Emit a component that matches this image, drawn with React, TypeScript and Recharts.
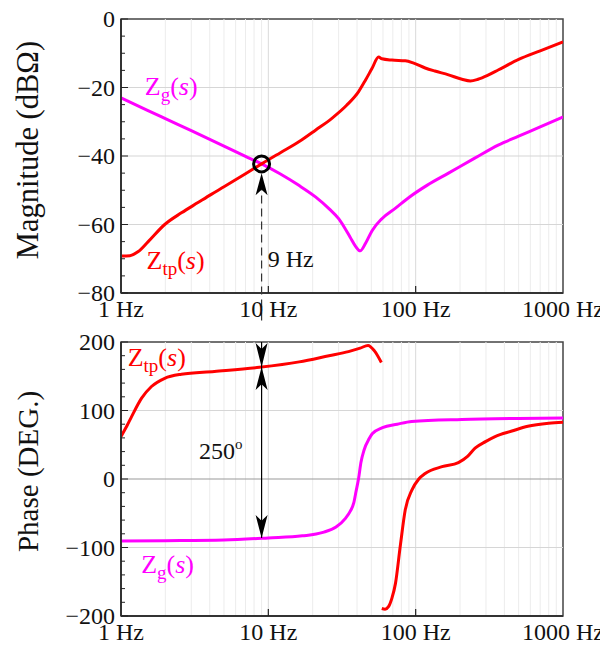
import {
  Line,
  LineChart,
  ReferenceArea,
  ReferenceDot,
  ReferenceLine,
  XAxis,
  YAxis,
} from 'recharts';

const FONT = '"Liberation Serif", "Times New Roman", serif';
const RED = '#ff0000';
const MAGENTA = '#ff00ff';

// frequency axis (Hz)
const decadeTicks = [1, 10, 100, 1000];
const innerDecades = [10, 100];
const minorFreqs = [2, 3, 4, 5, 6, 7, 8, 9, 20, 30, 40, 50, 60, 70, 80, 90, 200, 300, 400, 500, 600, 700, 800, 900];

// y axes
const magTicks = [-80, -75, -70, -65, -60, -55, -50, -45, -40, -35, -30, -25, -20, -15, -10, -5, 0];
const magGrid = [-20, -40, -60];
const phaseTicks = [-200, -180, -160, -140, -120, -100, -80, -60, -40, -20, 0, 20, 40, 60, 80, 100, 120, 140, 160, 180, 200];
const phaseGrid = [100, -100];

// magnitude of Zg(s), dBΩ
const zgMagFreq = [1, 1.5, 2, 3, 5, 7, 9, 12, 16, 21, 26, 30, 33, 36, 39, 42, 45.7, 50.6, 59, 73, 90, 120, 167, 250, 363, 500, 700, 1000];
const zgMagDb = [-23, -26.6, -29.1, -32.6, -37.1, -40.1, -42.3, -45.2, -48.5, -52, -55.5, -58.3, -61, -63.8, -66.3, -67.7, -65.5, -61.8, -58.3, -55.2, -52.1, -48.5, -45, -40.7, -36.8, -34.2, -31.5, -28.6];

// magnitude of Ztp(s), dBΩ
const ztpMagFreq = [1, 1.15, 1.31, 1.53, 1.98, 2.57, 3.33, 4.1, 5, 7, 9, 12, 16.2, 21, 27, 34, 41, 45.7, 50.6, 56, 59, 69, 85, 97, 116, 135, 167, 206, 235, 265, 310, 363, 500, 700, 1000];
const ztpMagDb = [-69.2, -69.1, -67.9, -65, -60, -56.6, -53.6, -51.2, -49, -45.2, -42.3, -39.1, -35.8, -32.4, -29, -25.2, -21.2, -17.8, -14.4, -11.1, -11.6, -12, -12.2, -12.9, -14.3, -15.2, -16.3, -17.6, -18.1, -17.6, -16.4, -14.9, -11.8, -9.3, -6.7];

// phase of Ztp(s), two branches (wraps at ±180)
const ztpPhaseFreqA = [1, 1.1, 1.18, 1.38, 1.61, 1.98, 2.57, 4.3, 8.7, 16.2, 25.8, 35, 42, 47.5, 52.5, 58.5];
const ztpPhaseDegA = [62, 78, 91, 118, 135, 147, 153, 157, 163, 171, 180, 186, 191, 195, 187, 170];
const ztpPhaseFreqB = [58.9, 62, 65.6, 69, 73, 78.5, 85, 94.4, 105, 116, 151, 195, 225, 253, 300, 346, 450, 577, 800, 1000];
const ztpPhaseDegB = [-189, -190, -186, -174, -152, -99, -45, -16, 0, 8, 18, 24, 33, 45, 55, 62, 70, 77, 81.5, 83];

// phase of Zg(s)
const zgPhaseFreq = [1, 2, 5, 10, 17, 23.5, 28.8, 33.5, 36, 38, 39.4, 41, 42.5, 44.6, 48.4, 50.7, 59.5, 75, 94, 205, 500, 1000];
const zgPhaseDeg = [-90.5, -90, -89, -86, -83, -78, -70, -57, -47, -35, -18, 1, 24, 42, 59, 66, 75, 80, 84, 87, 88.5, 89];

const toPoints = (f: number[], v: number[]) => f.map((x, i) => ({ f: x, v: v[i] }));

const XTick = (props: any) => {
  const { x, y, payload } = props;
  const v = payload.value;
  return (
    <g>
      {v > 1 && v < 1000 && <line x1={x} x2={x} y1={y} y2={y - 7} stroke="#222" strokeWidth={1.2} />}
      <text x={x} y={y + 24} textAnchor="middle" fontSize={24} fontFamily={FONT} fill="#111">
        {`${v} Hz`}
      </text>
    </g>
  );
};

const makeYTick = (major: number) => (props: any) => {
  const { x, y, payload } = props;
  const v = payload.value;
  const isMajor = v % major === 0;
  return (
    <g>
      <line x1={x} x2={x + (isMajor ? 7 : 4)} y1={y} y2={y} stroke="#222" strokeWidth={1} />
      {isMajor && (
        <text x={x - 6} y={y + 8} textAnchor="end" fontSize={24} fontFamily={FONT} fill="#111">
          {String(v).replace('-', '\u2212')}
        </text>
      )}
    </g>
  );
};

const AxisTitle = ({ text, tx, ty, size }: any) => (
  <text x={tx} y={ty} transform={`rotate(-90 ${tx} ${ty})`} textAnchor="middle" fontSize={size} fontFamily={FONT} fill="#111">
    {text}
  </text>
);

const zLabel = (sub: string, color: string) => (p: any) => (
  <text x={p.cx} y={p.cy} fontSize={26} fontFamily={FONT} fill={color}>
    Z<tspan fontSize={19} dy={6}>{sub}</tspan>
    <tspan dy={-6}>(</tspan>
    <tspan fontStyle="italic">s</tspan>)
  </text>
);

const plainLabel = (text: string, sup?: string) => (p: any) => (
  <text x={p.cx} y={p.cy} fontSize={24} fontFamily={FONT} fill="#111">
    {text}
    {sup && (
      <tspan fontSize={15} dy={-10}>
        {sup}
      </tspan>
    )}
  </text>
);

// dir 1 = pointing up, -1 = pointing down; tip sits at the data point
const arrowHead = (dir: number, len: number) => (p: any) => {
  const { cx, cy } = p;
  const w = 6;
  const by = cy + dir * len;
  const ny = cy + dir * len * 0.75;
  return <path d={`M${cx},${cy} L${cx - w},${by} L${cx},${ny} L${cx + w},${by} Z`} fill="#000" />;
};

const freqGrid = () => [
  ...minorFreqs.map((f) => <ReferenceLine key={`m${f}`} x={f} stroke="#ececec" strokeWidth={1} />),
  ...innerDecades.map((f) => <ReferenceLine key={`d${f}`} x={f} stroke="#dadada" strokeWidth={1} />),
];

export default function App() {
  return (
    <div style={{ width: 608, margin: '-8px 0 0 -8px', fontFamily: FONT }}>
      <LineChart width={608} height={325} margin={{ top: 19, right: 45, bottom: 0, left: 0 }}>
        <XAxis
          dataKey="f"
          type="number"
          scale="log"
          domain={[1, 1000]}
          allowDataOverflow
          ticks={decadeTicks}
          interval={0}
          tick={XTick}
          tickLine={false}
          tickSize={0}
          tickMargin={0}
          height={32}
          axisLine={{ stroke: '#333', strokeWidth: 2 }}
        />
        <YAxis
          type="number"
          domain={[-80, 0]}
          allowDataOverflow
          ticks={magTicks}
          interval={0}
          tick={makeYTick(20)}
          tickLine={false}
          tickSize={0}
          tickMargin={0}
          width={121}
          axisLine={{ stroke: '#333', strokeWidth: 2 }}
          label={<AxisTitle text="Magnitude (dBΩ)" tx={38} ty={150} size={30.5} />}
        />
        {freqGrid()}
        {magGrid.map((v) => (
          <ReferenceLine key={`g${v}`} y={v} stroke="#d6d6d6" strokeWidth={1.2} />
        ))}
        <ReferenceArea x1={1} x2={1000} y1={-80} y2={0} fill="none" stroke="#444" strokeWidth={1.5} />
        <Line data={toPoints(zgMagFreq, zgMagDb)} dataKey="v" type="monotone" stroke={MAGENTA} strokeWidth={3} dot={false} isAnimationActive={false} />
        <Line data={toPoints(ztpMagFreq, ztpMagDb)} dataKey="v" type="monotone" stroke={RED} strokeWidth={3} dot={false} isAnimationActive={false} />
        <ReferenceLine
          segment={[
            { x: 9, y: -88 },
            { x: 9, y: -50 },
          ]}
          ifOverflow="visible"
          stroke="#333"
          strokeWidth={1.2}
          strokeDasharray="8 5"
        />
        <ReferenceDot x={9} y={-45} shape={arrowHead(1, 22)} />
        <ReferenceDot x={9} y={-42.3} r={8} fill="none" stroke="#000" strokeWidth={3} />
        <ReferenceDot x={9.9} y={-72.3} shape={plainLabel('9 Hz')} />
        <ReferenceDot x={1.45} y={-22.2} shape={zLabel('g', MAGENTA)} />
        <ReferenceDot x={1.49} y={-73} shape={zLabel('tp', RED)} />
      </LineChart>

      <LineChart width={608} height={321} margin={{ top: 17, right: 45, bottom: 0, left: 0 }}>
        <XAxis
          dataKey="f"
          type="number"
          scale="log"
          domain={[1, 1000]}
          allowDataOverflow
          ticks={decadeTicks}
          interval={0}
          tick={XTick}
          tickLine={false}
          tickSize={0}
          tickMargin={0}
          height={30}
          axisLine={{ stroke: '#333', strokeWidth: 2 }}
        />
        <YAxis
          type="number"
          domain={[-200, 200]}
          allowDataOverflow
          ticks={phaseTicks}
          interval={0}
          tick={makeYTick(100)}
          tickLine={false}
          tickSize={0}
          tickMargin={0}
          width={121}
          axisLine={{ stroke: '#333', strokeWidth: 2 }}
          label={<AxisTitle text="Phase (DEG.)" tx={38} ty={146.5} size={29} />}
        />
        {freqGrid()}
        {phaseGrid.map((v) => (
          <ReferenceLine key={`g${v}`} y={v} stroke="#d6d6d6" strokeWidth={1.2} />
        ))}
        <ReferenceLine y={0} stroke="#9a9a9a" strokeWidth={1.2} />
        <ReferenceArea x1={1} x2={1000} y1={-200} y2={200} fill="none" stroke="#444" strokeWidth={1.5} />
        <Line data={toPoints(zgPhaseFreq, zgPhaseDeg)} dataKey="v" type="monotone" stroke={MAGENTA} strokeWidth={3} dot={false} isAnimationActive={false} />
        <Line data={toPoints(ztpPhaseFreqA, ztpPhaseDegA)} dataKey="v" type="monotone" stroke={RED} strokeWidth={3} dot={false} isAnimationActive={false} />
        <Line data={toPoints(ztpPhaseFreqB, ztpPhaseDegB)} dataKey="v" type="monotone" stroke={RED} strokeWidth={3} dot={false} isAnimationActive={false} />
        <ReferenceLine
          segment={[
            { x: 9, y: 200 },
            { x: 9, y: -86 },
          ]}
          stroke="#000"
          strokeWidth={1.2}
        />
        <ReferenceDot x={9} y={163.5} shape={arrowHead(-1, 24)} />
        <ReferenceDot x={9} y={163.5} shape={arrowHead(1, 23)} />
        <ReferenceDot x={9} y={-86} shape={arrowHead(-1, 23)} />
        <ReferenceDot x={3.38} y={29} shape={plainLabel('250', 'o')} />
        <ReferenceDot x={1.11} y={165} shape={zLabel('tp', RED)} />
        <ReferenceDot x={1.37} y={-137} shape={zLabel('g', MAGENTA)} />
      </LineChart>
    </div>
  );
}
